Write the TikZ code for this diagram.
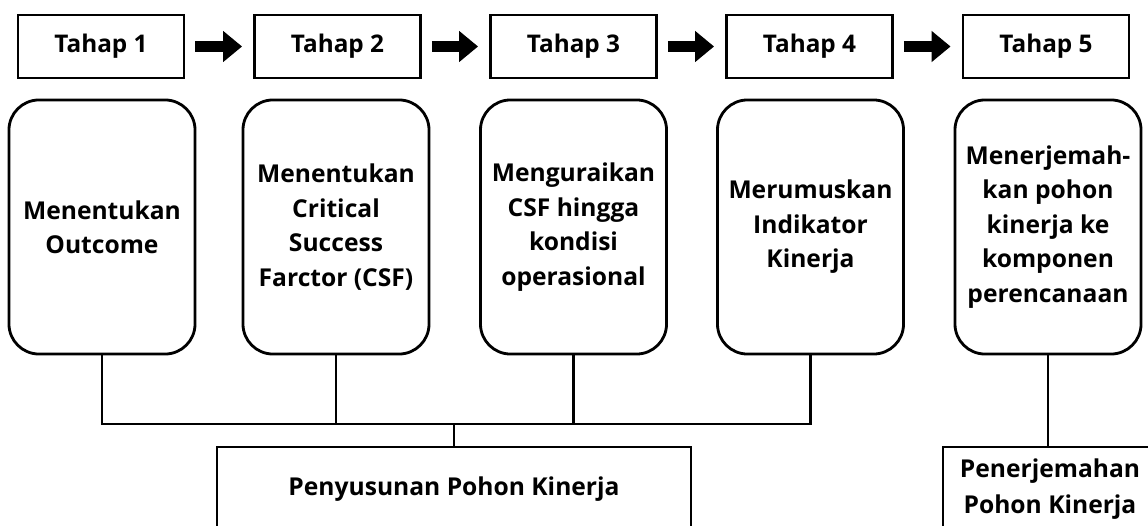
\documentclass[tikz,border=0pt]{standalone}
\usepackage{fontspec}
\setmainfont{Open Sans}
\usetikzlibrary{arrows.meta,calc}

\begin{document}
\begin{tikzpicture}[x=0.025cm,y=-0.025cm,line width=2pt,
		tahap/.style={draw,minimum width=4.15cm,minimum height=1.575cm,font=\bfseries\fontsize{17.3}{20}\selectfont},
		langkah/.style={draw,rounded corners=0.75cm,minimum width=4.65cm,minimum height=6.35cm,align=center,font=\bfseries\fontsize{17.5}{24.5}\selectfont},
		hasil/.style={draw,minimum height=2.1cm,align=center,font=\bfseries\fontsize{17.5}{25.5}\selectfont},
		panah/.style={line width=0.275cm,-{Triangle[length=0.475cm,width=0.75cm]},shorten <=0.25cm,shorten >=0.275cm}]
		\useasboundingbox (0,0) rectangle (1148,525);
		\clip (0,0) rectangle (1148,525);
		\foreach \i/\x/\xx/\txt in {1/101/102/{Menentukan\\Outcome},
				2/337.5/336/{Menentukan\\Critical\\Success\\Farctor (CSF)},
				3/573.5/573.5/{Menguraikan\\CSF hingga\\kondisi\\operasional},
				4/809.5/810.5/{Merumuskan\\Indikator\\Kinerja},
				5/1046/1048/{Menerjemah-\\kan pohon\\kinerja ke\\komponen\\perencanaan}}{
			\node[tahap] (T\i) at (\x,46.5) {Tahap \i};
			\node[langkah] (K\i) at (\xx,227) {\txt};
		}
		\foreach \i [evaluate=\i as \j using int(\i+1)] in {1,...,4}
			\draw[panah] (T\i) -- (T\j);
		% penyusunan pohon kinerja
		\node[hasil,minimum width=11.85cm] (P) at (454,489) {Penyusunan Pohon Kinerja};
		\coordinate (J) at (454,424);
		\draw (K1.south) -- (K1.south |- J) -- (K4.south |- J) -- (K4.south);
		\foreach \i in {2,3}
			\draw (K\i.south) -- (K\i.south |- J);
		\draw (J) -- (P.north);
		% penerjemahan
		\node[hasil,minimum width=5.35cm] (Q) at (1050,489) {Penerjemahan\\Pohon Kinerja};
		\draw (K5.south) -- (K5.south |- Q.north);
	\end{tikzpicture}
\end{document}
